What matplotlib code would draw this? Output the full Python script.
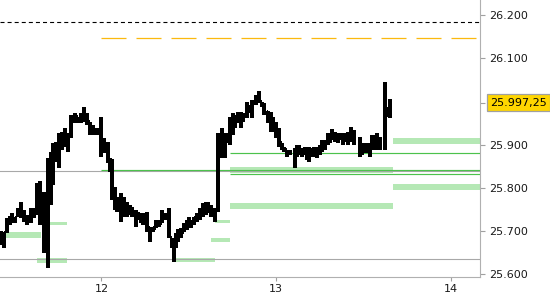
import matplotlib
matplotlib.use("Agg")
import matplotlib.pyplot as plt
import numpy as np

plt.rcParams['font.family'] = 'DejaVu Sans'
plt.rcParams['lines.scale_dashes'] = False

# bar times, day of month (12 = 12th at midnight)
times = [11.424, 11.442, 11.459, 11.476, 11.487, 11.505, 11.522, 11.539, 11.556, 11.576,
         11.596, 11.613, 11.631, 11.648, 11.671, 11.694, 11.711, 11.722, 11.739, 11.757,
         11.774, 11.791, 11.808, 11.825, 11.848, 11.866, 11.883, 11.900, 11.917, 11.934,
         11.951, 11.974, 11.997, 12.014, 12.037, 12.049, 12.060, 12.077, 12.089, 12.112,
         12.129, 12.146, 12.163, 12.175, 12.198, 12.209, 12.226, 12.238, 12.261, 12.278,
         12.295, 12.312, 12.329, 12.347, 12.364, 12.387, 12.404, 12.415, 12.427, 12.438,
         12.455, 12.473, 12.490, 12.501, 12.513, 12.530, 12.547, 12.564, 12.581, 12.599,
         12.610, 12.627, 12.650, 12.667, 12.690, 12.707, 12.719, 12.736, 12.753, 12.765,
         12.782, 12.799, 12.811, 12.833, 12.851, 12.862, 12.885, 12.902, 12.919, 12.931,
         12.954, 12.971, 12.982, 12.999, 13.017, 13.034, 13.045, 13.063, 13.080, 13.108,
         13.120, 13.131, 13.148, 13.165, 13.177, 13.188, 13.200, 13.217, 13.234, 13.252,
         13.263, 13.280, 13.297, 13.309, 13.320, 13.337, 13.355, 13.366, 13.383, 13.395,
         13.412, 13.429, 13.446, 13.481, 13.492, 13.503, 13.521, 13.538, 13.549, 13.566,
         13.578, 13.595, 13.624, 13.635, 13.652]

highs = [25700, 25697, 25730, 25734, 25741, 25732, 25753, 25767, 25748, 25737,
         25753, 25753, 25811, 25815, 25790, 25869, 25883, 25903, 25906, 25927,
         25929, 25938, 25927, 25968, 25973, 25964, 25973, 25987, 25973, 25952,
         25945, 25938, 25964, 25915, 25906, 25869, 25866, 25802, 25778, 25788,
         25778, 25767, 25760, 25755, 25748, 25744, 25741, 25741, 25744, 25709,
         25709, 25725, 25725, 25748, 25741, 25753, 25683, 25679, 25695, 25704,
         25707, 25718, 25725, 25732, 25725, 25732, 25741, 25753, 25765, 25767,
         25767, 25760, 25753, 25927, 25938, 25927, 25927, 25964, 25973, 25968,
         25975, 25975, 25973, 25998, 25992, 26003, 26015, 26024, 25998, 25996,
         25978, 25975, 25964, 25952, 25938, 25903, 25894, 25887, 25887, 25892,
         25899, 25899, 25892, 25894, 25894, 25894, 25892, 25894, 25894, 25899,
         25910, 25910, 25927, 25927, 25936, 25929, 25927, 25927, 25927, 25927,
         25929, 25941, 25934, 25917, 25899, 25903, 25903, 25903, 25922, 25922,
         25927, 25917, 26045, 25987, 26005]

lows = [25667, 25660, 25695, 25714, 25718, 25718, 25732, 25730, 25720, 25714,
        25718, 25730, 25737, 25714, 25649, 25614, 25760, 25806, 25859, 25846,
        25887, 25894, 25883, 25915, 25950, 25950, 25950, 25952, 25945, 25922,
        25922, 25922, 25871, 25880, 25857, 25836, 25771, 25748, 25744, 25720,
        25732, 25732, 25737, 25732, 25709, 25725, 25718, 25714, 25697, 25674,
        25697, 25707, 25709, 25718, 25725, 25683, 25660, 25628, 25660, 25674,
        25683, 25697, 25702, 25709, 25707, 25714, 25720, 25725, 25732, 25737,
        25741, 25732, 25720, 25744, 25869, 25869, 25903, 25899, 25922, 25938,
        25950, 25938, 25952, 25961, 25973, 25961, 25992, 25996, 25987, 25968,
        25950, 25929, 25929, 25915, 25894, 25887, 25883, 25871, 25876, 25846,
        25871, 25876, 25871, 25876, 25864, 25859, 25871, 25871, 25869, 25876,
        25883, 25887, 25899, 25903, 25910, 25906, 25903, 25910, 25899, 25906,
        25899, 25906, 25899, 25871, 25876, 25880, 25880, 25871, 25887, 25887,
        25887, 25887, 25887, 25964, 25961]

opens = [25679, 25690, 25702, 25725, 25730, 25725, 25737, 25748, 25741, 25732,
         25725, 25744, 25748, 25802, 25720, 25667, 25841, 25864, 25887, 25899,
         25910, 25922, 25910, 25922, 25961, 25964, 25957, 25964, 25968, 25952,
         25938, 25934, 25934, 25899, 25899, 25869, 25864, 25795, 25771, 25760,
         25771, 25760, 25753, 25748, 25744, 25737, 25737, 25730, 25737, 25707,
         25702, 25707, 25718, 25718, 25737, 25737, 25683, 25667, 25667, 25683,
         25697, 25697, 25714, 25718, 25720, 25720, 25730, 25737, 25748, 25753,
         25760, 25753, 25748, 25748, 25910, 25887, 25910, 25915, 25952, 25957,
         25961, 25964, 25957, 25968, 25987, 25980, 25998, 26008, 25998, 25992,
         25975, 25961, 25945, 25945, 25929, 25903, 25892, 25887, 25883, 25883,
         25887, 25887, 25887, 25883, 25887, 25883, 25887, 25883, 25887, 25887,
         25894, 25903, 25903, 25917, 25915, 25922, 25917, 25917, 25917, 25915,
         25917, 25917, 25922, 25910, 25887, 25887, 25892, 25887, 25899, 25910,
         25906, 25910, 25910, 25968, 25975]

closes = [25690, 25695, 25725, 25730, 25734, 25730, 25748, 25741, 25732, 25725,
          25748, 25748, 25802, 25720, 25760, 25852, 25869, 25887, 25899, 25910,
          25922, 25910, 25922, 25961, 25964, 25957, 25964, 25973, 25952, 25938,
          25934, 25934, 25899, 25906, 25869, 25864, 25795, 25771, 25760, 25771,
          25760, 25753, 25748, 25744, 25737, 25737, 25730, 25737, 25707, 25702,
          25707, 25718, 25718, 25737, 25737, 25690, 25667, 25667, 25683, 25697,
          25697, 25714, 25718, 25720, 25720, 25730, 25737, 25748, 25753, 25760,
          25753, 25748, 25748, 25910, 25887, 25910, 25915, 25952, 25957, 25961,
          25964, 25957, 25968, 25987, 25980, 25998, 26008, 26003, 25992, 25975,
          25961, 25945, 25945, 25929, 25903, 25892, 25887, 25883, 25883, 25887,
          25887, 25887, 25883, 25887, 25883, 25887, 25883, 25887, 25887, 25894,
          25903, 25903, 25917, 25915, 25922, 25917, 25917, 25917, 25915, 25917,
          25917, 25922, 25910, 25887, 25887, 25892, 25887, 25899, 25910, 25906,
          25910, 25910, 25968, 25975, 25997.25]

last_price = 25997.25

# horizontal levels
black_level = 26183
orange_level = 26146
orange_start = 12.0
gray_levels = [25839, 25635]
green_levels = [25880, 25842, 25831]
green_starts = [12.736, 12.0, 12.736]

# zones: start, end, low, high
zone_start = [11.447, 11.688, 11.631, 12.421, 12.650, 12.627, 12.736, 12.736, 13.670, 13.670]
zone_end = [11.653, 11.802, 11.802, 12.650, 12.736, 12.736, 13.670, 13.670, 14.170, 14.170]
zone_low = [25684, 25713, 25625, 25628, 25717, 25673, 25751, 25834, 25795, 25901]
zone_high = [25698, 25721, 25638, 25637, 25725, 25683, 25765, 25848, 25808, 25916]

y_ticks = [25600, 25700, 25800, 25900, 26100, 26200]
x_ticks = [12, 13, 14]


def fmt_price(v, decimals=0):
    s = f"{v:,.{decimals}f}"
    return s.replace(",", "_").replace(".", ",").replace("_", ".")


fig = plt.figure(figsize=(5.5, 3), dpi=100)
ax = fig.add_axes([0, 23 / 300, 480 / 550, 277 / 300])
ax.set_xlim(11.4187, 14.1678)
ax.set_ylim(25593, 26235)

# zones
for x0, x1, lo, hi in zip(zone_start, zone_end, zone_low, zone_high):
    ax.fill_between([x0, x1], lo, hi, color='#b5e8b5', linewidth=0, zorder=1)

# levels
ax.axhline(black_level, color='black', lw=0.8, ls=(0, (2.9, 2.2)), zorder=2)
ax.hlines(orange_level, orange_start, 14.2, color='#fbb90f', lw=0.9,
          ls=(0, (18, 7.2)), zorder=2)
for lvl in gray_levels:
    ax.axhline(lvl, color='#a8a8a8', lw=0.8, zorder=2)
for lvl, x0 in zip(green_levels, green_starts):
    ax.hlines(lvl, x0, 14.2, color='#4cc24c', lw=0.85, zorder=3)

# OHLC bars
t = np.array(times)
tick = 0.007
ax.vlines(t, lows, highs, color='black', lw=1.6, zorder=5, antialiased=False)
ax.hlines(opens, t - tick, t, color='black', lw=1.6, zorder=5, antialiased=False)
ax.hlines(closes, t, t + tick, color='black', lw=1.6, zorder=5, antialiased=False)

# axes styling
for side in ['left', 'top']:
    ax.spines[side].set_visible(False)
for side in ['right', 'bottom']:
    ax.spines[side].set_color('#b0b0b0')
    ax.spines[side].set_linewidth(0.8)

ax.yaxis.tick_right()
ticks = y_ticks + [last_price]
ax.set_yticks(ticks, [fmt_price(v) for v in y_ticks] + [''])
ax.set_xticks(x_ticks, [str(v) for v in x_ticks])
ax.tick_params(axis='y', length=3.6, width=0.8, color='#a0a0a0', pad=3,
               labelsize=8, labelcolor='#1a1a1a')
ax.tick_params(axis='x', length=2.9, width=0.8, color='#a0a0a0', pad=2,
               labelsize=8, labelcolor='#1a1a1a')

# last price label
ax.text(1.021, last_price, fmt_price(last_price, 2), transform=ax.get_yaxis_transform(),
        ha='left', va='center', fontsize=8, color='black', zorder=10, clip_on=False,
        bbox=dict(boxstyle='square,pad=0.3', fc='#ffd600', ec='#a0a0a0', lw=0.9))

fig.savefig('out.png', dpi=100)
